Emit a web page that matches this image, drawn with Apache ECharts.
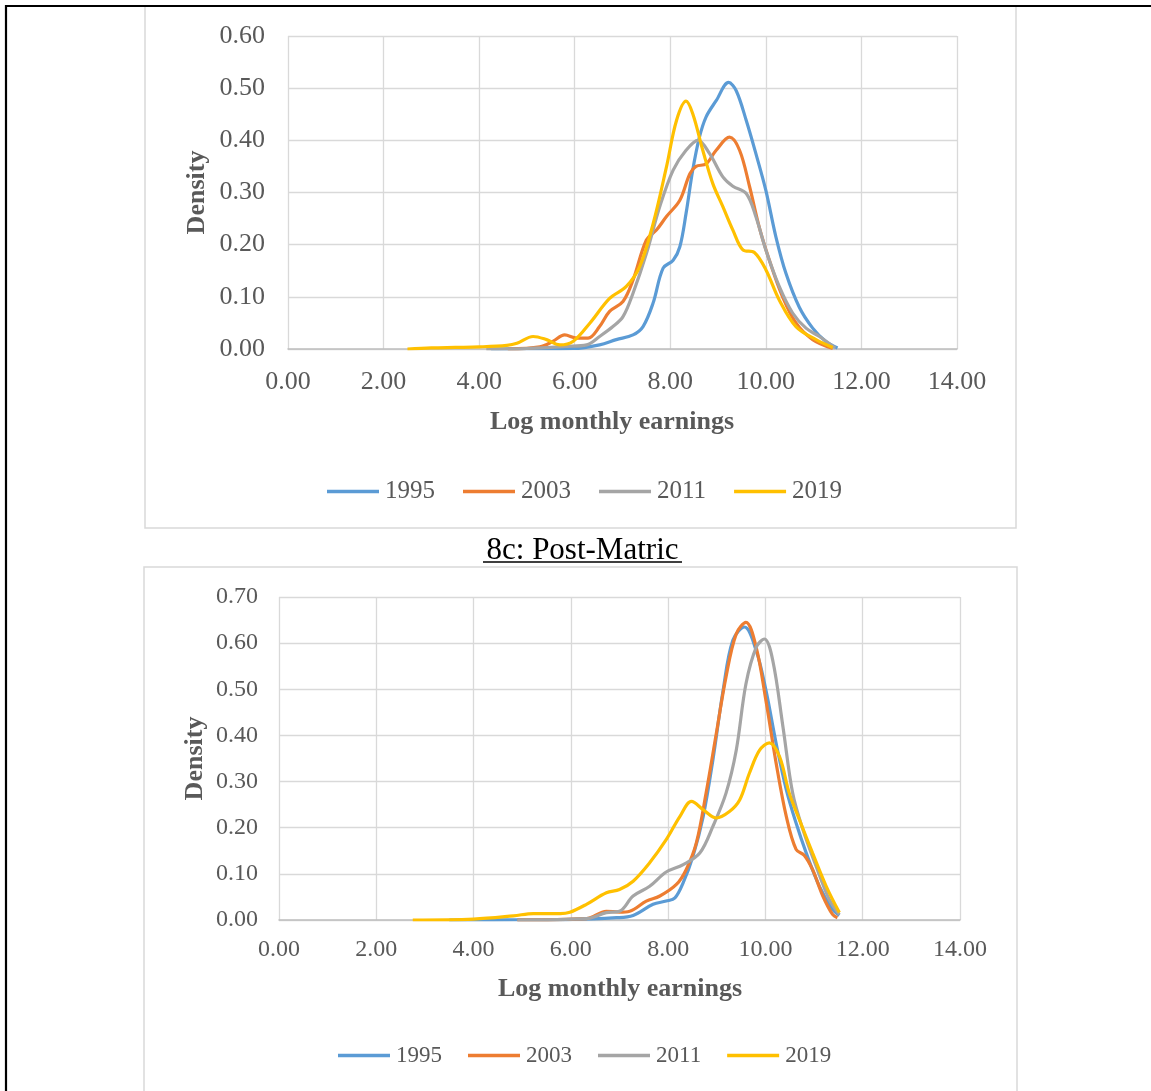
<!DOCTYPE html>
<html>
<head>
<meta charset="utf-8">
<script src="https://cdn.jsdelivr.net/npm/echarts@6/dist/echarts.min.js"></script>
<style>
html,body{margin:0;padding:0;background:#fff;}
#c{width:1151px;height:1091px;}
</style>
</head>
<body>
<div id="c"></div>
<script>
// ---- data ----
const years = ['1995', '2003', '2011', '2019'];
const xTicks = [0, 2, 4, 6, 8, 10, 12, 14];
const caption = '8c: Post-Matric';
const xTitle = 'Log monthly earnings';
const yTitle = 'Density';

// top panel (points are [log earnings, density])
const top1995 = [[4.25,0],[5.0,0.0005],[5.97,0.001],[6.52,0.008],[6.87,0.018],[7.22,0.027],[7.43,0.043],[7.64,0.088],[7.85,0.155],[8.06,0.17],[8.2,0.196],[8.33,0.26],[8.47,0.343],[8.61,0.406],[8.75,0.445],[8.96,0.476],[9.22,0.511],[9.38,0.495],[9.59,0.438],[9.79,0.375],[10.0,0.304],[10.21,0.215],[10.42,0.145],[10.7,0.08],[10.98,0.04],[11.25,0.015],[11.5,0.002]];
const top2003 = [[4.6,0],[5.27,0.004],[5.55,0.015],[5.79,0.027],[6.04,0.021],[6.28,0.021],[6.52,0.043],[6.73,0.072],[7.01,0.091],[7.22,0.132],[7.5,0.209],[7.71,0.228],[7.92,0.254],[8.2,0.285],[8.41,0.336],[8.54,0.35],[8.75,0.355],[8.96,0.381],[9.24,0.406],[9.45,0.381],[9.66,0.311],[9.86,0.234],[10.07,0.171],[10.35,0.1],[10.63,0.05],[10.98,0.018],[11.4,0.001]];
const top2011 = [[4.15,0],[5.0,0.001],[5.83,0.005],[6.25,0.008],[6.52,0.024],[6.8,0.043],[7.01,0.062],[7.22,0.107],[7.5,0.183],[7.78,0.273],[8.06,0.343],[8.33,0.381],[8.58,0.4],[8.82,0.375],[9.1,0.33],[9.31,0.312],[9.59,0.298],[9.79,0.254],[10.0,0.19],[10.28,0.12],[10.56,0.069],[10.84,0.04],[11.12,0.024],[11.45,0.002]];
const top2019 = [[2.5,0],[3.0,0.002],[3.5,0.003],[4.0,0.004],[4.58,0.007],[4.79,0.011],[5.13,0.024],[5.41,0.018],[5.69,0.008],[5.97,0.015],[6.32,0.05],[6.73,0.097],[7.08,0.12],[7.36,0.158],[7.64,0.24],[7.92,0.349],[8.13,0.438],[8.33,0.475],[8.47,0.451],[8.68,0.381],[8.89,0.317],[9.1,0.273],[9.31,0.228],[9.52,0.19],[9.76,0.185],[10.0,0.152],[10.28,0.094],[10.63,0.043],[11.05,0.018],[11.4,0.003]];

// bottom panel (8c: Post-Matric)
const bot1995 = [[3.5,0],[5.0,0.0005],[5.91,0.001],[6.94,0.005],[7.28,0.01],[7.69,0.034],[7.96,0.041],[8.14,0.048],[8.31,0.081],[8.51,0.138],[8.72,0.224],[8.92,0.347],[9.13,0.498],[9.33,0.606],[9.57,0.635],[9.81,0.584],[10.01,0.498],[10.22,0.383],[10.43,0.282],[10.63,0.21],[10.84,0.145],[11.11,0.073],[11.38,0.023],[11.52,0.01]];
const bot2003 = [[4.9,0],[6.32,0.003],[6.73,0.019],[7.0,0.017],[7.21,0.019],[7.55,0.041],[7.83,0.052],[8.17,0.077],[8.37,0.109],[8.58,0.167],[8.78,0.275],[8.99,0.404],[9.19,0.527],[9.4,0.62],[9.6,0.645],[9.81,0.591],[10.01,0.476],[10.22,0.34],[10.43,0.224],[10.63,0.153],[10.8,0.14],[10.97,0.109],[11.18,0.052],[11.38,0.012],[11.48,0.005]];
const bot2011 = [[4.9,0],[6.32,0.003],[6.73,0.016],[7.0,0.019],[7.28,0.052],[7.62,0.073],[7.96,0.104],[8.31,0.12],[8.65,0.145],[8.92,0.203],[9.19,0.275],[9.4,0.368],[9.6,0.512],[9.81,0.591],[9.98,0.609],[10.15,0.563],[10.36,0.419],[10.56,0.275],[10.77,0.196],[11.04,0.117],[11.31,0.045],[11.52,0.012]];
const bot2019 = [[2.75,0],[4.0,0.002],[4.82,0.009],[5.23,0.014],[5.78,0.014],[5.98,0.017],[6.32,0.034],[6.73,0.059],[7.0,0.066],[7.28,0.084],[7.62,0.124],[7.96,0.174],[8.24,0.224],[8.48,0.257],[8.72,0.239],[8.99,0.221],[9.26,0.235],[9.47,0.26],[9.67,0.318],[9.88,0.368],[10.08,0.384],[10.29,0.354],[10.49,0.275],[10.7,0.217],[10.97,0.145],[11.25,0.073],[11.52,0.016]];

const topMaxY = 0.6;
const botMaxY = 0.7;

// ---- styling ----
const colors = ['#5B9BD5', '#ED7D31', '#A5A5A5', '#FFC000'];
const serif = '"Liberation Serif", "Times New Roman", serif';
const tickColor = '#595959';
const gridColor = '#D9D9D9';

function xAxisCfg(gi, fs, margin) {
  return {
    type: 'value', gridIndex: gi, min: 0, max: 14, interval: 2,
    axisLine: { show: true, lineStyle: { color: '#BFBFBF', width: 1.5 } },
    axisTick: { show: false },
    splitLine: { show: true, showMinLine: true, showMaxLine: true, lineStyle: { color: gridColor, width: 1.3 } },
    axisLabel: { formatter: v => v.toFixed(2), fontFamily: serif, fontSize: fs, color: tickColor, margin: margin }
  };
}
function yAxisCfg(gi, max, fs, margin) {
  return {
    type: 'value', gridIndex: gi, min: 0, max: max, interval: 0.1,
    axisLine: { show: false }, axisTick: { show: false },
    splitLine: { show: true, showMinLine: true, showMaxLine: true, lineStyle: { color: gridColor, width: 1.3 } },
    axisLabel: { formatter: v => v.toFixed(2), fontFamily: serif, fontSize: fs, color: tickColor, margin: margin }
  };
}

const topData = [top1995, top2003, top2011, top2019];
const botData = [bot1995, bot2003, bot2011, bot2019];
const series = [];
topData.forEach((d, i) => series.push({
  name: years[i], type: 'line', xAxisIndex: 0, yAxisIndex: 0, data: d,
  smooth: 0.35, showSymbol: false, symbol: 'none',
  lineStyle: { color: colors[i], width: 3.2 }, itemStyle: { color: colors[i] }
}));
botData.forEach((d, i) => series.push({
  name: years[i], type: 'line', xAxisIndex: 1, yAxisIndex: 1, data: d,
  smooth: 0.35, showSymbol: false, symbol: 'none',
  lineStyle: { color: colors[i], width: 3.2 }, itemStyle: { color: colors[i] }
}));

function legendCfg(left, top, fs, gap) {
  return {
    data: years, left: left, top: top, orient: 'horizontal',
    icon: 'rect', itemWidth: 52, itemHeight: 3.5, itemGap: gap,
    selectedMode: false,
    textStyle: { fontFamily: serif, fontSize: fs, color: tickColor, padding: [0, 0, 0, 1] }
  };
}

const chart = echarts.init(document.getElementById('c'), null, { renderer: 'canvas' });
chart.setOption({
  animation: false,
  backgroundColor: '#fff',
  grid: [
    { left: 288, top: 36, width: 669, height: 313 },
    { left: 279, top: 597, width: 681, height: 323 }
  ],
  xAxis: [xAxisCfg(0, 26, 20), xAxisCfg(1, 24, 18)],
  yAxis: [yAxisCfg(0, topMaxY, 26, 23), yAxisCfg(1, botMaxY, 24, 21)],
  legend: [legendCfg(322, 474, 25, 28), legendCfg(333, 1039, 23, 26)],
  series: series,
  graphic: [
    { type: 'rect', shape: { x: 145, y: 6, width: 871, height: 522 }, style: { fill: 'none', stroke: gridColor, lineWidth: 1.5 }, z: -1 },
    { type: 'rect', shape: { x: 144, y: 567, width: 873, height: 560 }, style: { fill: 'none', stroke: gridColor, lineWidth: 1.5 }, z: -1 },
    { type: 'line', shape: { x1: 5, y1: 6, x2: 1151, y2: 6 }, style: { stroke: '#000', lineWidth: 2.2 }, z: 10 },
    { type: 'line', shape: { x1: 6, y1: 5, x2: 6, y2: 1091 }, style: { stroke: '#000', lineWidth: 2.2 }, z: 10 },
    { type: 'text', x: 582.5, y: 551, style: { text: caption, fontFamily: serif, fontSize: 31, fill: '#000', align: 'center', verticalAlign: 'middle' } },
    { type: 'line', shape: { x1: 483, y1: 562, x2: 682, y2: 562 }, style: { stroke: '#000', lineWidth: 1.5 } },
    { type: 'text', x: 612, y: 422, style: { text: xTitle, fontFamily: serif, fontSize: 26, fontWeight: 'bold', fill: tickColor, align: 'center', verticalAlign: 'middle' } },
    { type: 'text', x: 620, y: 989, style: { text: xTitle, fontFamily: serif, fontSize: 26, fontWeight: 'bold', fill: tickColor, align: 'center', verticalAlign: 'middle' } },
    { type: 'text', x: 197, y: 192.5, rotation: Math.PI / 2, style: { text: yTitle, fontFamily: serif, fontSize: 26, fontWeight: 'bold', fill: tickColor, align: 'center', verticalAlign: 'middle' } },
    { type: 'text', x: 195, y: 758.5, rotation: Math.PI / 2, style: { text: yTitle, fontFamily: serif, fontSize: 26, fontWeight: 'bold', fill: tickColor, align: 'center', verticalAlign: 'middle' } }
  ]
});
</script>
</body>
</html>
